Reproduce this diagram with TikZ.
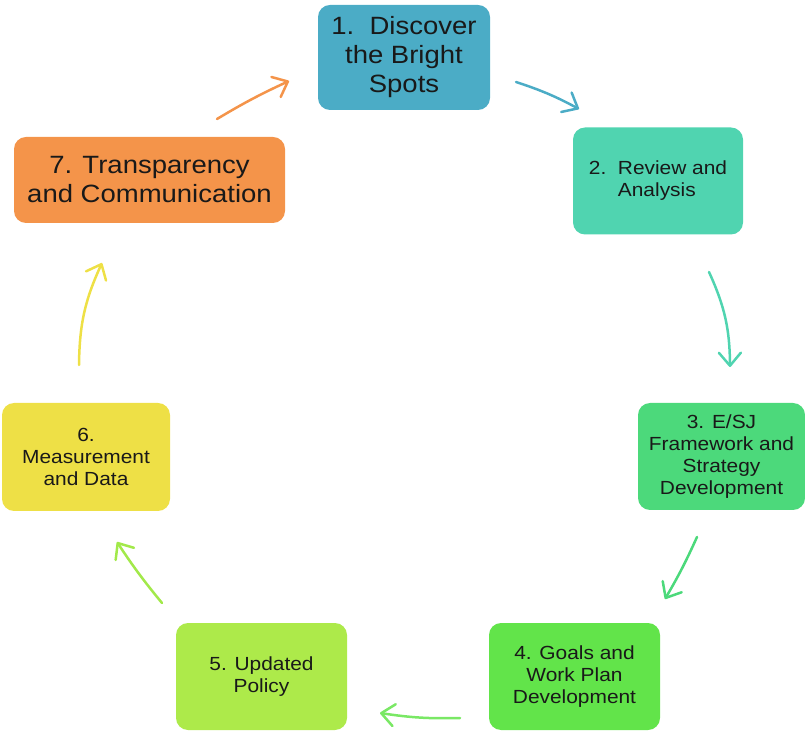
\documentclass[tikz,border=0pt]{standalone}
\usepackage{fontspec}
\setmainfont{Liberation Sans}[FakeStretch=1.1]
\usetikzlibrary{arrows.meta}
\definecolor{cyc_blue}{RGB}{75, 172, 198}
\definecolor{cyc_teal}{RGB}{80, 212, 176}
\definecolor{cyc_green}{RGB}{76, 217, 123}
\definecolor{cyc_lgreen}{RGB}{98, 228, 74}
\definecolor{cyc_lime}{RGB}{173, 234, 74}
\definecolor{cyc_yellow}{RGB}{238, 224, 70}
\definecolor{cyc_orange}{RGB}{244, 148, 74}
\tikzstyle{box}=[rectangle,rounded corners=12pt,draw=none,inner sep=0pt,
  align=center,text=black!90,minimum width=170pt,minimum height=107pt]
\tikzstyle{big}=[font=\fontsize{25}{29}\selectfont]
\tikzstyle{small}=[font=\fontsize{19}{22}\selectfont]
\tikzstyle{arr}=[line width=2.5pt,line cap=round,line join=round,
  -{Straight Barb[length=13pt,width=22pt,line cap=round,line join=round]}]
\tikzstyle{none}=[]

\begin{document}
\begin{tikzpicture}[x=1pt,y=1pt]
            \useasboundingbox (0, 0) rectangle (805, 731);
            \node [style=box, style=big, fill=cyc_blue, minimum width=172pt, minimum height=105pt] (1) at (404, 673.5) {1.\ \ Discover\\the Bright\\Spots};
            \node [style=box, style=small, fill=cyc_teal, align=left] (2) at (658, 550) {2.\ \ Review and\\\hphantom{2.\ \ }Analysis};
            \node [style=box, style=small, fill=cyc_green, minimum width=167pt] (3) at (721.5, 274.5) {3. E/SJ\\Framework and\\Strategy\\Development};
            \node [style=box, style=small, fill=cyc_lgreen, minimum width=171pt] (4) at (574.5, 54.5) {4. Goals and\\Work Plan\\Development};
            \node [style=box, style=small, fill=cyc_lime, minimum width=171pt] (5) at (261.5, 54.5) {5. Updated\\Policy};
            \node [style=box, style=small, fill=cyc_yellow, minimum width=168pt, minimum height=108pt] (6) at (86, 274) {6.\\Measurement\\and Data};
            \node [style=box, style=big, fill=cyc_orange, minimum width=271pt, minimum height=86pt] (7) at (149.5, 551) {7. Transparency\\and Communication};
            \node [style=none] (8) at (516, 649) {};
            \node [style=none] (9) at (579, 622) {};
            \node [style=none] (10) at (709, 459) {};
            \node [style=none] (11) at (730, 364) {};
            \node [style=none] (12) at (697, 194) {};
            \node [style=none] (13) at (665, 132) {};
            \node [style=none] (14) at (460, 13) {};
            \node [style=none] (15) at (380, 18) {};
            \node [style=none] (16) at (162, 128) {};
            \node [style=none] (17) at (117, 189) {};
            \node [style=none] (18) at (79, 366) {};
            \node [style=none] (19) at (102, 468) {};
            \node [style=none] (20) at (217, 612) {};
            \node [style=none] (21) at (289, 650) {};
            \draw [style=arr, cyc_blue] (8.center) to[bend left=5] (9.center);
            \draw [style=arr, cyc_teal] (10.center) to[bend left=12] (11.center);
            \draw [style=arr, cyc_green] (12.center) to[bend left=3] (13.center);
            \draw [style=arr, cyc_lgreen!85!white] (14.center) to[bend left=5] (15.center);
            \draw [style=arr, cyc_lime!85!cyc_lgreen] (16.center) to[bend left=3] (17.center);
            \draw [style=arr, cyc_yellow] (18.center) to[bend left=12] (19.center);
            \draw [style=arr, cyc_orange] (20.center) to[bend left=3] (21.center);
    \end{tikzpicture}
\end{document}
